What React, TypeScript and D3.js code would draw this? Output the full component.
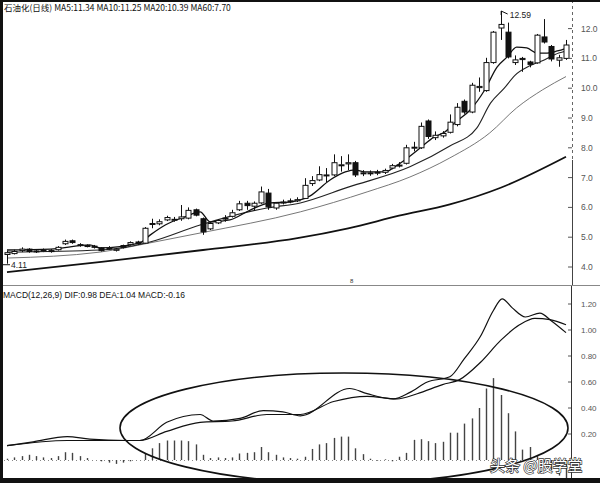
import React, { useEffect } from "react";
import * as d3 from "d3";

// ---------- data ----------
const opens = [4.42,4.45,4.55,4.60,4.52,4.54,4.55,4.58,4.78,4.88,4.75,4.72,4.70,4.64,4.62,4.56,4.72,4.76,4.84,4.80,
  5.43,5.45,5.58,5.58,5.62,5.64,5.92,5.62,5.28,5.48,5.62,5.70,5.92,6.14,6.04,6.15,6.48,5.98,6.16,6.22,
  6.22,6.30,6.80,6.92,7.06,7.09,7.40,7.46,7.50,7.14,7.14,7.15,7.18,7.32,7.40,7.48,8.00,8.00,8.90,8.34,
  8.40,8.52,8.78,9.56,9.20,10.02,9.92,10.86,12.02,11.88,10.86,11.00,10.88,10.85,11.72,11.40,10.94,11.00];
const highs = [4.55,4.58,4.66,4.63,4.60,4.62,4.60,4.70,4.92,4.92,4.80,4.76,4.74,4.66,4.70,4.64,4.75,4.86,4.88,5.34,
  5.62,5.60,5.72,5.68,6.08,6.00,5.96,5.66,5.50,5.60,5.74,5.92,6.22,6.22,6.20,6.70,6.62,6.18,6.26,6.30,
  6.34,6.98,7.05,7.38,7.32,7.78,7.72,7.78,7.56,7.25,7.24,7.26,7.30,7.46,7.52,8.10,8.20,8.85,8.95,8.55,
  8.56,9.12,9.50,9.62,10.18,10.36,11.02,11.92,12.59,12.20,11.10,11.05,10.92,11.82,12.32,11.45,11.12,11.62];
const lows = [4.11,4.42,4.50,4.48,4.47,4.50,4.48,4.55,4.74,4.78,4.68,4.66,4.62,4.52,4.58,4.52,4.62,4.72,4.75,4.78,
  5.30,5.40,5.54,5.52,5.55,5.60,5.70,5.08,5.24,5.44,5.52,5.66,5.88,5.92,5.88,6.12,5.92,5.92,6.10,6.14,
  6.18,6.28,6.72,6.88,6.85,7.05,7.20,7.25,7.02,7.05,7.06,7.08,7.12,7.28,7.34,7.44,7.88,7.96,8.30,8.26,
  8.34,8.48,8.72,9.14,9.16,9.88,9.88,10.82,11.62,11.00,10.78,10.55,10.70,10.82,11.50,10.90,10.72,10.95];
const closes = [4.48,4.52,4.60,4.52,4.54,4.56,4.52,4.66,4.86,4.82,4.72,4.70,4.66,4.55,4.64,4.60,4.66,4.82,4.78,5.30,
  5.46,5.52,5.66,5.60,5.68,5.90,5.74,5.18,5.46,5.56,5.64,5.82,6.12,6.06,6.14,6.52,6.02,6.14,6.18,6.20,
  6.26,6.74,6.90,7.10,7.09,7.50,7.43,7.50,7.09,7.16,7.16,7.18,7.24,7.40,7.42,8.00,8.02,8.72,8.38,8.42,
  8.48,8.86,9.36,9.20,10.10,10.06,10.86,11.88,12.14,11.05,10.95,10.96,10.80,11.78,11.55,10.98,11.02,11.45];

// moving averages read as [day index, value]
const ma5: [number, number][] = [[0,4.57],[6,4.60],[11.4,4.74],[12.8,4.64],[18.3,4.81],[19.7,5.07],[21.8,5.41],[24.5,5.68],
  [26.6,5.85],[28,5.51],[30.7,5.58],[33.5,5.91],[36.2,6.15],[39,6.18],[40.4,6.25],[41.7,6.38],[44.5,6.92],[46.6,7.19],
  [47.9,7.26],[49.3,7.19],[52.1,7.19],[53.4,7.36],[54.8,7.59],[56.9,7.99],[58.8,8.36],[60.3,8.53],[61.8,8.87],[63.8,9.27],
  [65.8,9.94],[67.5,10.71],[68.9,11.05],[70.2,11.38],[71.6,11.35],[73,11.18],[74.4,11.18],[75.8,11.25],[77,11.34]];
const ma10: [number, number][] = [[0,4.50],[12.8,4.57],[19.7,4.84],[26.6,5.41],[35.8,5.98],[40.4,6.15],[47,6.68],[55.5,7.36],
  [61,8.06],[64.7,8.66],[66.6,9.5],[68.5,10.0],[70,10.44],[72,10.75],[74,10.95],[76,11.18],[77,11.25]];
const ma20: [number, number][] = [[0,4.30],[12.8,4.50],[19.7,4.81],[26.6,5.14],[40.4,5.85],[49.6,6.52],[55.5,7.02],[61,7.66],
  [66.5,8.50],[70.2,9.34],[73.8,9.95],[77,10.39]];
const ma60: [number, number][] = [[0,3.83],[13,4.17],[27,4.57],[40,4.97],[47,5.30],[54,5.72],[61,6.10],[68,6.66],[77,7.70]];

const dif: [number, number][] = [[0,0.11],[3.6,0.14],[8.3,0.18],[11.4,0.16],[16.5,0.15],[18.3,0.15],[22,0.29],[26.6,0.35],
  [28.4,0.30],[32.1,0.32],[35.3,0.38],[38,0.37],[40.4,0.34],[47.2,0.55],[49.6,0.51],[53.2,0.47],[55.5,0.52],[57.9,0.60],
  [61,0.64],[63,0.78],[65.2,0.95],[67,1.15],[68.2,1.24],[69.6,1.17],[71.4,1.10],[73.4,1.13],[75,1.07],[77,0.98]];
const dea: [number, number][] = [[0,0.11],[8.3,0.15],[16.5,0.15],[18.3,0.15],[22,0.22],[26.6,0.29],[31,0.30],[35.8,0.35],
  [40.4,0.35],[45,0.45],[49.6,0.49],[53.7,0.47],[56.5,0.51],[60,0.58],[62.4,0.62],[65.2,0.75],[68,0.92],[70.6,1.04],
  [72.7,1.09],[74.8,1.08],[77,1.04]];
const macdBars = [0.01,0.02,0.03,0.04,0.03,0.02,0.015,0.03,0.06,0.055,0.03,0.015,0,-0.01,-0.02,-0.03,-0.02,-0.01,0,0.05,
  0.09,0.13,0.15,0.15,0.15,0.145,0.12,0.04,0.015,0.02,0.015,0.02,0.05,0.055,0.06,0.10,0.06,0.04,0.02,0.015,
  0.01,0.025,0.085,0.12,0.13,0.17,0.18,0.18,0.09,0.045,0.01,-0.005,0.005,-0.01,0.025,0.055,0.155,0.16,0.145,0.13,
  0.14,0.21,0.21,0.28,0.32,0.40,0.55,0.63,0.50,0.36,0.22,0.08,0.10,0.03,-0.02,-0.08,-0.12,-0.16];

const priceTicks = [12, 11, 10, 9, 8, 7, 6, 5, 4];
const macdTicks = [1.2, 1.0, 0.8, 0.6, 0.4, 0.2];
const headerText = "石油化(日线) MA5:11.34 MA10:11.25 MA20:10.39 MA60:7.70";
const macdText = "MACD(12,26,9) DIF:0.98 DEA:1.04 MACD:-0.16";
const highLabel = "12.59";
const lowLabel = "4.11";
const watermark = "头条 @股学堂";

// ---------- component ----------
export default function App() {
  useEffect(() => {
    document.body.style.margin = "0";
  }, []);

  const W = 600, H = 483;
  const x = d3.scaleLinear().domain([0, closes.length - 1]).range([7, 566]);
  const yP = d3.scaleLinear().domain([4, 12]).range([267, 28.6]);
  const yM = d3.scaleLinear().domain([0, 1.2]).range([460, 304]);

  const priceLine = d3.line<[number, number]>().x(d => x(d[0])).y(d => yP(d[1])).curve(d3.curveMonotoneX);
  const macdLine = d3.line<[number, number]>().x(d => x(d[0])).y(d => yM(d[1])).curve(d3.curveMonotoneX);

  const font = "Arial, 'Liberation Sans', sans-serif";
  const bw = 5;

  const maxIdx = highs.indexOf(d3.max(highs) as number);
  const minIdx = lows.indexOf(d3.min(lows) as number);

  return (
    <svg width={W} height={H} style={{ display: "block", position: "fixed", left: 0, top: 0, background: "#fff" }}
      fontFamily={font}>
      <rect x={0} y={0} width={W} height={H} fill="#fff" />

      {/* MA lines */}
      <path d={priceLine(ma60) || ""} fill="none" stroke="#111" strokeWidth={1.8} />
      <path d={priceLine(ma20) || ""} fill="none" stroke="#777" strokeWidth={1} />
      <path d={priceLine(ma10) || ""} fill="none" stroke="#222" strokeWidth={1.1} />
      <path d={priceLine(ma5) || ""} fill="none" stroke="#111" strokeWidth={1.3} />

      {/* candles */}
      {closes.map((c, i) => {
        const o = opens[i];
        const up = c >= o;
        const top = yP(Math.max(o, c));
        const bot = yP(Math.min(o, c));
        const cx = Math.round(x(i)) + 0.5;
        return (
          <g key={i}>
            <line x1={cx} x2={cx} y1={yP(highs[i])} y2={yP(lows[i])} stroke="#111" strokeWidth={1} />
            <rect x={cx - bw / 2} y={top} width={bw} height={Math.max(bot - top, 1)}
              fill={up ? "#fff" : "#111"} stroke="#111" strokeWidth={1} />
          </g>
        );
      })}

      {/* high / low markers */}
      <line x1={x(maxIdx) + 0.5} x2={x(maxIdx) + 0.5} y1={yP(highs[maxIdx])} y2={yP(highs[maxIdx]) + 4} stroke="#111" />
      <line x1={x(maxIdx) + 0.5} x2={x(maxIdx) + 7} y1={yP(highs[maxIdx])} y2={yP(highs[maxIdx]) + 3} stroke="#111" />
      <text x={x(maxIdx) + 9} y={yP(highs[maxIdx]) + 7} fontSize={8.5} fill="#222">{highLabel}</text>
      <line x1={0} x2={10} y1={yP(lows[minIdx]) + 1} y2={yP(lows[minIdx]) + 1} stroke="#111" />
      <text x={11} y={yP(lows[minIdx]) + 4} fontSize={8.5} fill="#222">{lowLabel}</text>
      <text x={350} y={283} fontSize={6} fill="#333">8</text>

      {/* price axis */}
      <line x1={572.5} x2={572.5} y1={0} y2={160} stroke="#666" strokeDasharray="3,3" />
      <line x1={572.5} x2={572.5} y1={160} y2={285} stroke="#444" />
      {priceTicks.map(t => (
        <g key={t}>
          <line x1={568} x2={572} y1={yP(t)} y2={yP(t)} stroke="#555" />
          <text x={581} y={yP(t) + 3} fontSize={8.5} fill="#555">{t.toFixed(1)}</text>
        </g>
      ))}

      {/* header */}
      <text x={4} y={11} fontSize={8.5} fill="#111" fontFamily="'Noto Sans CJK SC', Arial, sans-serif">{headerText}</text>

      {/* separator */}
      <line x1={0} x2={W} y1={285.5} y2={285.5} stroke="#888" strokeWidth={1.2} />

      {/* lower panel */}
      <text x={3} y={298} fontSize={8.5} fill="#111">{macdText}</text>
      <line x1={0} x2={568} y1={yM(0) + 0.5} y2={yM(0) + 0.5} stroke="#888" strokeDasharray="1,3" />
      {macdBars.map((v, i) => (
        <line key={i} x1={Math.round(x(i)) + 0.5} x2={Math.round(x(i)) + 0.5} y1={yM(0)} y2={yM(v)}
          stroke="#444" strokeWidth={1.4} />
      ))}
      <path d={macdLine(dea) || ""} fill="none" stroke="#111" strokeWidth={1.2} />
      <path d={macdLine(dif) || ""} fill="none" stroke="#111" strokeWidth={1.2} />

      <line x1={571.5} x2={571.5} y1={286} y2={H} stroke="#333" />
      {macdTicks.map(t => (
        <g key={t}>
          <line x1={568} x2={571} y1={yM(t)} y2={yM(t)} stroke="#555" />
          <text x={581} y={yM(t) + 3} fontSize={8} fill="#555">{t.toFixed(2)}</text>
        </g>
      ))}

      {/* annotation ellipse */}
      <ellipse cx={344} cy={428} rx={224} ry={55} fill="none" stroke="#111" strokeWidth={1.6} />

      {/* watermark */}
      <text x={490} y={471} fontSize={15} fill="#fff" stroke="#333" strokeWidth={1.3}
        style={{ paintOrder: "stroke" }} fontFamily="'Noto Sans CJK SC', sans-serif">{watermark}</text>

      {/* frame */}
      <rect x={0} y={0} width={W} height={2} fill="#111" />
      <rect x={0} y={0} width={3} height={H} fill="#111" />
      <rect x={0} y={478} width={W} height={5} fill="#111" />
    </svg>
  );
}
